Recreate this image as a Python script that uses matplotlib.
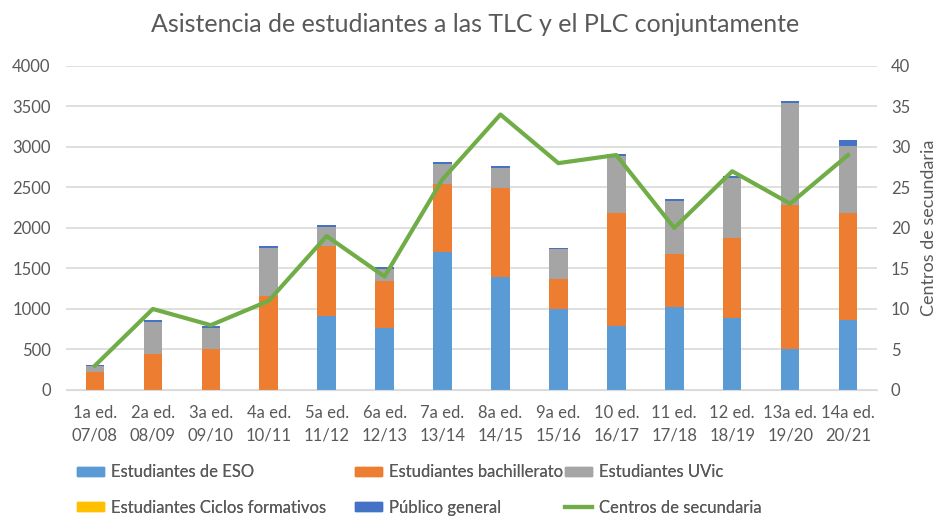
import numpy as np
import matplotlib
matplotlib.use("Agg")
import matplotlib.pyplot as plt
from matplotlib.patches import Patch
from matplotlib.lines import Line2D

plt.rcParams["font.family"] = ["Lato", "DejaVu Sans"]

# Data
ediciones = ["1a ed.\n07/08", "2a ed.\n08/09", "3a ed.\n09/10", "4a ed.\n10/11",
             "5a ed.\n11/12", "6a ed.\n12/13", "7a ed.\n13/14", "8a ed.\n14/15",
             "9a ed.\n15/16", "10 ed.\n16/17", "11 ed.\n17/18", "12 ed.\n18/19",
             "13a ed.\n19/20", "14a ed.\n20/21"]
eso = [0, 0, 0, 0, 910, 770, 1700, 1395, 995, 790, 1020, 885, 510, 860]
bachillerato = [225, 440, 510, 1160, 865, 575, 840, 1095, 380, 1390, 655, 985, 1775, 1320]
uvic = [70, 400, 260, 595, 240, 150, 250, 255, 360, 710, 660, 750, 1260, 830]
ciclos = [0] * 14
publico = [15, 20, 20, 20, 20, 25, 20, 17, 15, 20, 20, 20, 25, 75]
centros = [3, 10, 8, 11, 19, 14, 26, 34, 28, 29, 20, 27, 23, 29]

C_ESO = "#5B9BD5"
C_BACH = "#ED7D31"
C_UVIC = "#A5A5A5"
C_CICLOS = "#FFC000"
C_PUB = "#4472C4"
C_LINE = "#70AD47"
TXT = "#595959"

fig = plt.figure(figsize=(9.42, 5.19), dpi=100)
ax = fig.add_axes([0.070, 0.2486, 0.861, 0.6244])
x = np.arange(len(ediciones))
w = 0.32

bottom = np.zeros(len(x))
for vals, col in [(eso, C_ESO), (bachillerato, C_BACH), (uvic, C_UVIC),
                  (ciclos, C_CICLOS), (publico, C_PUB)]:
    ax.bar(x, vals, w, bottom=bottom, color=col, zorder=2)
    bottom += np.array(vals)

ax.set_xlim(-0.5, len(x) - 0.5)
ax.set_ylim(0, 4000)
ax.set_yticks(range(0, 4001, 500))
ax.set_xticks(x)
ax.set_xticklabels(ediciones, fontsize=12, color=TXT, linespacing=1.5)
ax.grid(axis="y", color="#D9D9D9", linewidth=1.2, zorder=0)
ax.set_axisbelow(True)
for s in ["top", "right", "left"]:
    ax.spines[s].set_visible(False)
ax.spines["bottom"].set_color("#D9D9D9")
ax.tick_params(axis="both", length=0, colors=TXT, labelsize=12)
ax.tick_params(axis="y", pad=11)
ax.tick_params(axis="x", pad=11)

ax2 = ax.twinx()
ax2.plot(x, centros, color=C_LINE, linewidth=3, zorder=3)
ax2.set_ylim(0, 40)
ax2.set_yticks(range(0, 41, 5))
for s in ax2.spines.values():
    s.set_visible(False)
ax2.tick_params(axis="y", length=0, colors=TXT, labelsize=12, pad=10)
ax2.set_ylabel("Centros de secundaria", fontsize=13, color=TXT, labelpad=8)

fig.suptitle("Asistencia de estudiantes a las TLC y el PLC conjuntamente",
             fontsize=18, color=TXT, x=0.504, y=0.975)

# legend: three columns placed like the original
columns = [
    ([Patch(color=C_ESO), Patch(color=C_CICLOS)],
     ["Estudiantes de ESO", "Estudiantes Ciclos formativos"], 77),
    ([Patch(color=C_BACH), Patch(color=C_PUB)],
     ["Estudiantes bachillerato", "Público general"], 355),
    ([Patch(color=C_UVIC), Line2D([], [], color=C_LINE, lw=3)],
     ["Estudiantes UVic", "Centros de secundaria"], 565),
]
for hs, ls, px in columns:
    leg = fig.legend(hs, ls, loc="center left", bbox_to_anchor=(px / 942, 0.056),
                     frameon=False, fontsize=12, labelcolor=TXT, handlelength=1.6,
                     handleheight=0.5, handletextpad=0.45, labelspacing=1.15,
                     borderpad=0, borderaxespad=0)
    fig.add_artist(leg)

fig.savefig("out.png", dpi=100)
